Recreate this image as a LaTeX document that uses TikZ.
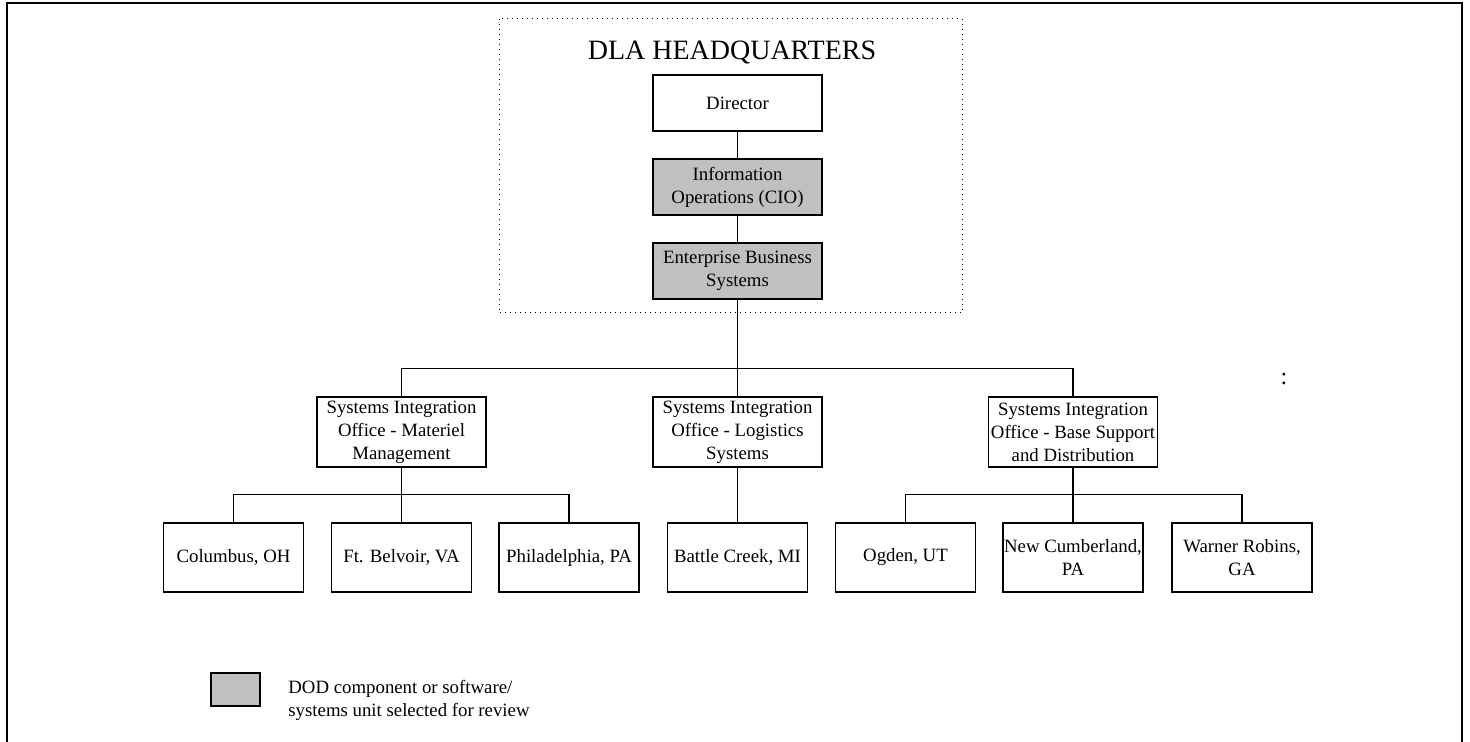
\documentclass[tikz,border=0pt]{standalone}
\usepackage{fontspec}
\setmainfont{Liberation Serif}
\definecolor{reviewgray}{RGB}{192,192,192}
\tikzset{
  unit/.style={draw, line width=0.7pt, align=center, inner sep=0pt,
    minimum width=84.5pt, minimum height=28pt,
    font=\fontsize{9.4}{11.5}\selectfont},
  office/.style={unit, minimum height=35pt},
  site/.style={unit, minimum width=70pt, minimum height=34.5pt},
  picked/.style={fill=reviewgray},
  link/.style={line width=0.7pt}
}
\begin{document}
\begin{tikzpicture}[x=0.5pt, y=-0.5pt]
 \useasboundingbox (0,0) rectangle (1470,742);
 \draw [line width=1pt] (7,742) -- (7,3) -- (1462,3) -- (1462,742);
 \draw [dotted, line width=0.5pt] (499,19) rectangle (962,313);
 \node [anchor=base, inner sep=0pt, font=\fontsize{14}{16}\selectfont] (hq) at (732,60) {DLA HEADQUARTERS};
 \node [unit] (director) at (737.5,103) {Director};
 \node [unit, picked] (cio) at (737.5,187) {Information\\Operations (CIO)};
 \node [unit, picked] (ebs) at (737.5,271) {Enterprise Business\\Systems};
 % integration offices
 \node [office] (siomm) at (401.5,432) {Systems Integration\\Office - Materiel\\Management};
 \node [office] (siols) at (737.5,432) {Systems Integration\\Office - Logistics\\Systems};
 \node [office] (siobsd) at (1073,432) {Systems Integration\\Office - Base Support\\and Distribution};
 % sites
 \node [site] (columbus) at (233.5,557.5) {Columbus, OH};
 \node [site] (belvoir) at (401.5,557.5) {Ft. Belvoir, VA};
 \node [site] (phila) at (569,557.5) {Philadelphia, PA};
 \node [site] (battle) at (737.5,557.5) {Battle Creek, MI};
 \node [site] (ogden) at (905.5,557.5) {Ogden, UT};
 \node [site] (newcumb) at (1073,557.5) {New Cumberland,\\PA};
 \node [site] (warner) at (1242,557.5) {Warner Robins,\\GA};
 \node [anchor=base, inner sep=0pt, font=\fontsize{12}{14}\selectfont] (dots) at (1284,385) {:};
 % legend
 \node [unit, picked, minimum width=24.5pt, minimum height=16.5pt] (key) at (235.5,689.5) {};
 \node [anchor=west, align=left, inner sep=0pt, font=\fontsize{9.4}{11.5}\selectfont] (keytext) at (288,700) {DOD component or software/\\systems unit selected for review};
 \draw [link] (director) -- (cio);
 \draw [link] (cio) -- (ebs);
 \draw [link] (ebs) -- (siols);
 \draw [link] (siomm.north) -- ++(0,-28) -| (siobsd.north);
 \draw [link] (siomm) -- (belvoir);
 \draw [link] (columbus.north) -- ++(0,-28) -| (phila.north);
 \draw [link] (siols) -- (battle);
 \draw [link] (siobsd) -- (newcumb);
 \draw [link] (ogden.north) -- ++(0,-28) -| (warner.north);
\end{tikzpicture}
\end{document}
